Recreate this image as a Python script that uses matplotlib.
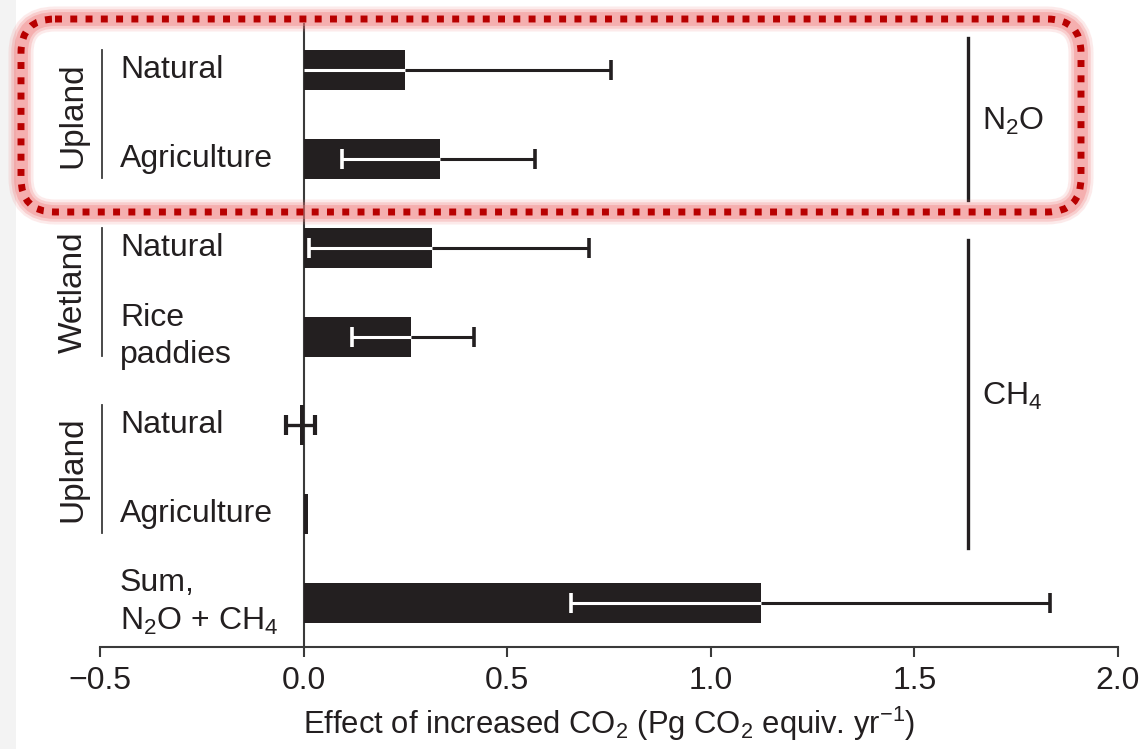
import matplotlib
matplotlib.use("Agg")
import matplotlib.pyplot as plt
from matplotlib.patches import FancyBboxPatch, Rectangle

plt.rcParams['font.family'] = ['Liberation Sans', 'DejaVu Sans']
plt.rcParams['mathtext.fontset'] = 'custom'
plt.rcParams['mathtext.rm'] = 'Liberation Sans'
plt.rcParams['mathtext.it'] = 'Liberation Sans:italic'
plt.rcParams['mathtext.default'] = 'regular'

# rows, top to bottom
labels = ["Natural", "Agriculture", "Natural", "Rice\npaddies", "Natural", "Agriculture",
          "Sum,\nN$_2$O + CH$_4$"]
values = [0.249, 0.334, 0.315, 0.263, -0.010, 0.012, 1.123]
err_lo = [0.0, 0.095, 0.013, 0.120, -0.042, 0.012, 0.657]
err_hi = [0.755, 0.569, 0.700, 0.419, 0.027, 0.012, 1.832]

groups = ["Upland", "Wetland", "Upland"]
group_rows = [(0, 1), (2, 3), (4, 5)]
gases = ["N$_2$O", "CH$_4$"]

xticks = [-0.5, 0.0, 0.5, 1.0, 1.5, 2.0]

ink = "#231f20"
W, H = 1145, 749
fs = 23

fig = plt.figure(figsize=(W / 100, H / 100), dpi=100)
ax = fig.add_axes([100 / W, 1 - 647 / H, 1018 / W, (647 - 23) / H])

rows = list(range(len(values)))
ax.axvline(0, color="#3a3a3a", lw=1.5, zorder=1)
ax.barh(rows, values, height=0.45, color=ink, zorder=2)

# error bars: white inside the bar, black outside
for i in rows:
    v, lo, hi = values[i], err_lo[i], err_hi[i]
    if lo == hi:
        continue
    b0, b1 = min(0, v), max(0, v)
    if abs(v) < 0.05:
        ax.hlines(i, lo, hi, color=ink, lw=2.4, zorder=3)
        ax.plot([lo, hi], [i, i], ls="none", marker="|", ms=15, mew=3, color=ink, zorder=3)
        continue
    ax.hlines(i, max(lo, b0), min(hi, b1), color="white", lw=2.2, zorder=3)
    if hi > b1:
        ax.hlines(i, b1, hi, color=ink, lw=2.2, zorder=3)
    ax.plot([hi], [i], ls="none", marker="|", ms=15, mew=2.6,
            color="white" if hi <= b1 else ink, zorder=3)
    if lo != 0:
        ax.plot([lo], [i], ls="none", marker="|", ms=15, mew=2.6,
                color="white" if lo >= b0 else ink, zorder=3)

ax.set_xlim(-0.5, 2.0)
ax.set_ylim(6.5, -0.535)
ax.set_xticks(xticks)
ax.set_xticklabels([f"{t:.1f}".replace("-", "\u2212") for t in xticks])
ax.set_yticks([])
for s in ["top", "right", "left"]:
    ax.spines[s].set_visible(False)
ax.spines["bottom"].set_color("#3a3a3a")
ax.spines["bottom"].set_linewidth(1.5)
ax.tick_params(axis="x", direction="out", length=7, width=1.5, color="#3a3a3a",
               labelsize=fs, labelcolor=ink, pad=7)
ax.set_xlabel("Effect of increased CO$_2$ (Pg CO$_2$ equiv. yr$^{\u22121}$)",
              fontsize=22.3, color=ink, labelpad=6)

# row labels
for i, lab in zip(rows, labels):
    ax.text(-0.451, i, lab, ha="left", va="center", fontsize=fs, color=ink,
            linespacing=1.32, clip_on=False)

# group brackets on the left
for g, (r0, r1) in zip(groups, group_rows):
    ax.plot([-0.495, -0.495], [r0 - 0.225, r1 + 0.215], color="#3a3a3a", lw=1.3, clip_on=False)
    ax.text(-0.566, (r0 + r1) / 2, g, rotation=90, ha="center", va="center",
            fontsize=fs + 1, color=ink, clip_on=False)

# gas brackets on the right
gas_span = [(-0.366, 1.459), (1.91, 5.38)]
for gname, (y0, y1) in zip(gases, gas_span):
    ax.plot([1.632, 1.632], [y0, y1], color=ink, lw=2.4, clip_on=False)
    ax.text(1.665, (y0 + y1) / 2 + 0.03, gname, ha="left", va="center",
            fontsize=fs, color=ink)

# highlight overlay in pixel coordinates
ov = fig.add_axes([0, 0, 1, 1], zorder=10)
ov.set_xlim(0, W)
ov.set_ylim(H, 0)
ov.axis("off")
ov.patch.set_alpha(0)
ov.add_patch(Rectangle((0, 0), 16, H, color="#f3f3f3", lw=0, zorder=0))
box = dict(boxstyle="round,pad=0,rounding_size=34", facecolor="none")
for lw, a in [(18, 0.15), (14, 0.25), (10, 0.35)]:
    ov.add_patch(FancyBboxPatch((21, 19), 1060, 193, edgecolor="#f07878", lw=lw,
                                alpha=a, **box))
ov.add_patch(FancyBboxPatch((21, 19), 1060, 193, edgecolor="#b80000", lw=5,
                            linestyle=(0, (1, 1.2)), **box))

fig.savefig("out.png", dpi=100)
